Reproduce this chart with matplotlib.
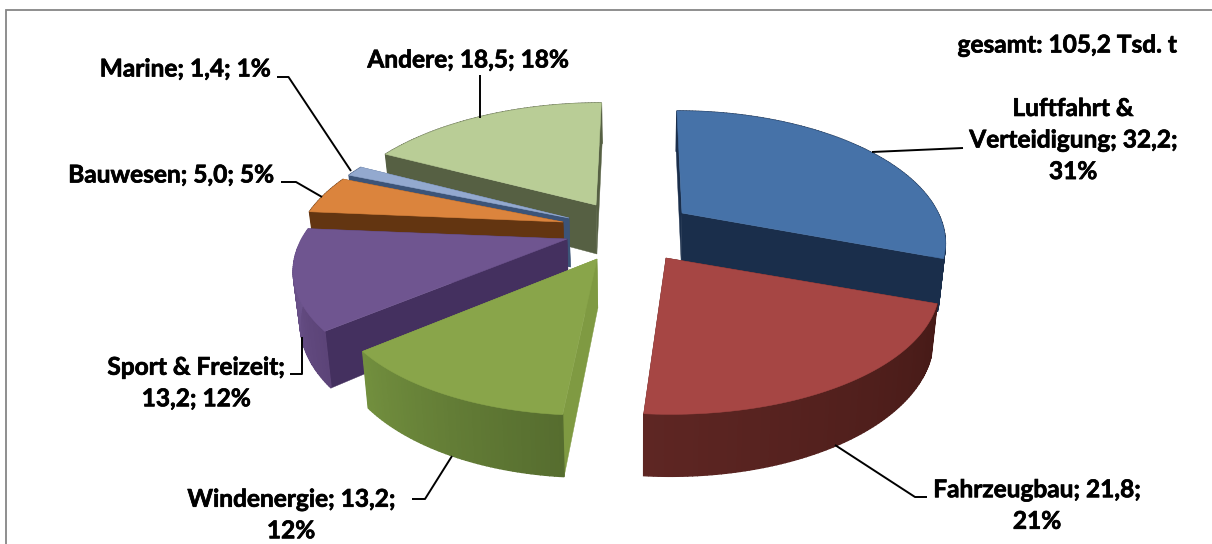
import numpy as np
import matplotlib
matplotlib.use("Agg")
import matplotlib.pyplot as plt
import matplotlib.patheffects as pe
from matplotlib.colors import to_rgb
from matplotlib.patches import Polygon

categories = ["Luftfahrt & Verteidigung", "Fahrzeugbau", "Windenergie", "Sport & Freizeit", "Bauwesen", "Marine", "Andere"]
values = [32.2, 21.8, 13.2, 13.2, 5.0, 1.4, 18.5]
percent_labels = ["31%", "21%", "12%", "12%", "5%", "1%", "18%"]
total_label = "gesamt: 105,2 Tsd. t"

label_texts = [
    "Luftfahrt &\nVerteidigung; 32,2;\n31%",
    "Fahrzeugbau; 21,8;\n21%",
    "Windenergie; 13,2;\n12%",
    "Sport & Freizeit;\n13,2; 12%",
    "Bauwesen; 5,0; 5%",
    "Marine; 1,4; 1%",
    "Andere; 18,5; 18%",
]

# style / layout (pixels of the 1212x544 canvas)
tips = [(682, 213), (666, 258), (597, 259), (567, 239), (563, 222), (569, 218), (596, 205)]
radial_gain = [0.985, 1.025, 1.0, 1.02, 1.0, 1.0, 1.005]
top_cols = ["#4672A8", "#A64644", "#89A54A", "#6F5590", "#DB843D", "#93A9CF", "#B9CD96"]
wall_cols = ["#1A2E4B", "#4A1C19", "#7F9A42", "#44305F", "#633511", "#3C5478", "#566043"]
arc_a = ["#1A2E4B", "#5E2623", "#728F3E", "#705892", "#633511", "#3C5478", "#566043"]
arc_b = ["#1A2E4B", "#461A17", "#566D2F", "#5C4478", "#633511", "#3C5478", "#566043"]
draw_order = [6, 5, 4, 3, 0, 1, 2]
label_pos = [(1073, 140), (1037, 505.5), (291, 515), (196, 383), (171, 175), (185, 69), (468, 60)]
leaders = [
    [(872, 152), (963, 148)],
    [(835, 445), (915, 497), (927, 497)],
    [(452, 456), (425, 499), (412, 499)],
    [(302, 337), (302, 374), (290, 374)],
    [(322, 197), (296, 182), (281, 182)],
    [(351, 171), (288.5, 77), (277, 77)],
    [(480, 118), (480, 75)],
]
RX, RY, K, H, CX, CONV, BOTTOM = 260, 123.5, 0.21, 49, 640, 0.7, 0.98
FONT = "Lato"
FS = 17.6


def project(tip, gain, theta, bottom=False):
    """theta in degrees clockwise from 12 o'clock, returns canvas pixels."""
    t = np.radians(theta)
    u, v = np.sin(t), np.cos(t)
    s = 1 / (1 + K * v)
    x = tip[0] + gain * RX * u * s + CONV * (tip[0] - CX) * (s - 1)
    y = tip[1] - RY * v * s
    if bottom:
        x = CX + (x - CX) * BOTTOM
        y = y + H * s
    return np.array([x, y])


def tip_bottom(tip):
    return np.array([CX + (tip[0] - CX) * BOTTOM, tip[1] + H])


fig = plt.figure(figsize=(12.12, 5.44), dpi=100, facecolor="white")
ax = fig.add_axes([0, 0, 1, 1])
ax.set_xlim(0, 1212)
ax.set_ylim(544, 0)
ax.axis("off")

# chart frame
ax.plot([5.5, 5.5, 1212], [544, 9.5, 9.5], color="#868686", lw=1.3, solid_joinstyle="miter", zorder=1)

vals = np.array(values, dtype=float)
edges = np.concatenate([[0], np.cumsum(vals) / vals.sum() * 360])

z = 2
for i in draw_order:
    tip, gain = tips[i], radial_gain[i]
    a0, a1 = edges[i], edges[i + 1]
    ths = np.linspace(a0, a1, max(8, int((a1 - a0) * 1.2)))
    tb = tip_bottom(tip)
    # radial walls
    for a in (a0, a1):
        pts = [tip, project(tip, gain, a), project(tip, gain, a, True), tb]
        ax.add_patch(Polygon(pts, closed=True, fc=wall_cols[i], ec=wall_cols[i], lw=0.3, zorder=z))
    z += 1
    # outer wall with shading across the arc
    ca, cb = np.array(to_rgb(arc_a[i])), np.array(to_rgb(arc_b[i]))
    for j in range(len(ths) - 1):
        f = j / max(1, len(ths) - 2)
        col = tuple(cb * (1 - f) + ca * f)
        pts = [project(tip, gain, ths[j]), project(tip, gain, ths[j + 1]),
               project(tip, gain, ths[j + 1], True), project(tip, gain, ths[j], True)]
        ax.add_patch(Polygon(pts, closed=True, fc=col, ec=col, lw=1.0, zorder=z))
    z += 1
    # top face
    outline = [tip] + [project(tip, gain, a) for a in ths]
    ax.add_patch(Polygon(outline, closed=True, fc=top_cols[i], ec=top_cols[i], lw=0.4, zorder=z))
    z += 1

for path in leaders:
    xs, ys = zip(*path)
    ax.plot(xs, ys, color="black", lw=1.4, zorder=z, solid_capstyle="butt")

heavier = [pe.withStroke(linewidth=0.5, foreground="black")]
for txt, (x, y) in zip(label_texts, label_pos):
    ax.text(x, y, txt, ha="center", va="center", family=FONT, weight="bold", fontsize=FS,
            color="black", linespacing=1.45, zorder=z + 1, path_effects=heavier)
ax.text(1067, 45, total_label, ha="center", va="center", family=FONT, weight="bold",
        fontsize=FS, color="black", zorder=z + 1, path_effects=heavier)

fig.savefig("out.png", dpi=100, facecolor="white")
